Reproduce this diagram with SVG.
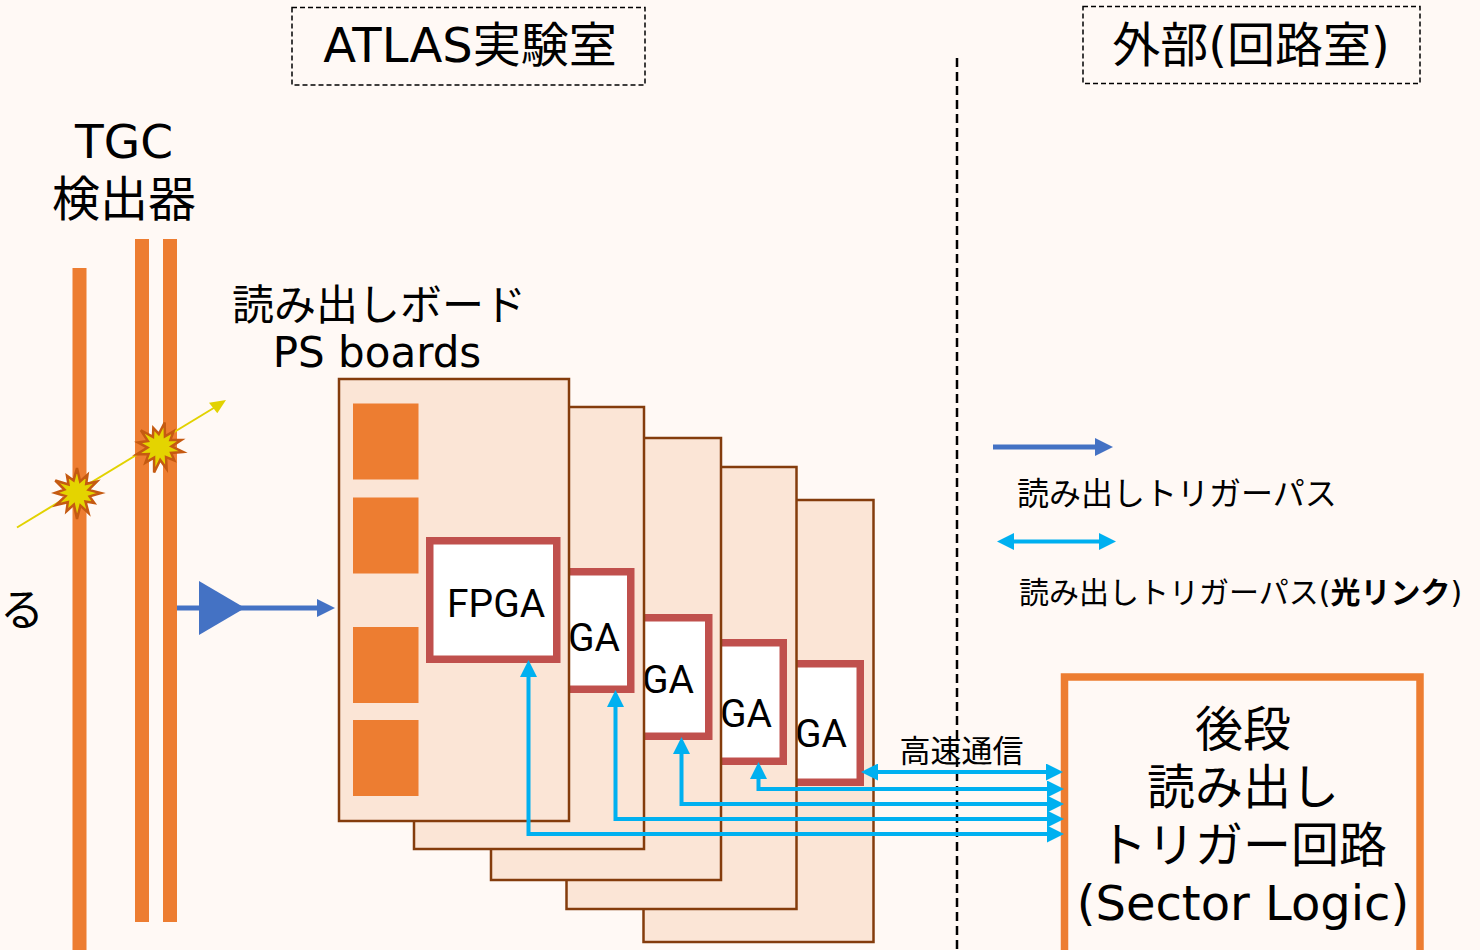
<svg xmlns="http://www.w3.org/2000/svg" width="1480" height="950" viewBox="0 0 1480 950">
  <defs>
    <style>
      .jp { font-family: "DejaVu Sans", "Noto Sans CJK JP", sans-serif; fill: #000; }
      .chiptext { font-family: Roboto, "Liberation Sans", sans-serif; font-size: 39px; fill: #000; }
      .board { fill: #FBE5D6; stroke: #843C0C; stroke-width: 2.5; }
      .chip { fill: #FFFFFF; stroke: #C0504D; stroke-width: 7.5; }
      .pad { fill: #ED7D31; }
      .bar { fill: #ED7D31; }
      .room { fill: none; stroke: #000; stroke-width: 1.5; stroke-dasharray: 5 3; }
      .link { fill: none; stroke: #00B0F0; stroke-width: 4; stroke-linejoin: miter; marker-start: url(#cyanHead); marker-end: url(#cyanHead); }
      .readout { fill: none; stroke: #4472C4; stroke-width: 5; marker-end: url(#blueHead); }
      .burst { fill: #E4D400; stroke: #C55A11; stroke-width: 2.5; stroke-linejoin: miter; }
    </style>
    <marker id="cyanHead" viewBox="0 0 17 17" refX="9" refY="8.5" markerWidth="17" markerHeight="17" markerUnits="userSpaceOnUse" orient="auto-start-reverse">
      <path d="M0,0 L17,8.5 L0,17 Z" fill="#00B0F0"/>
    </marker>
    <marker id="blueHead" viewBox="0 0 18 18" refX="9" refY="9" markerWidth="18" markerHeight="18" markerUnits="userSpaceOnUse" orient="auto">
      <path d="M0,0 L18,9 L0,18 Z" fill="#4472C4"/>
    </marker>
    <polygon id="burstShape" class="burst" points="24,0 12.6,3.4 17.3,10 8.5,8.5 11.5,19.9 3.4,12.6 0,26 -3.1,11.6 -10.5,18.2 -9.2,9.2 -20.8,12 -11.6,3.1 -22,0 -12.6,-3.4 -21.7,-12.5 -8.5,-8.5 -10,-17.3 -3.4,-12.6 0,-25 3.1,-11.6 10.5,-18.2 9.2,-9.2 19.9,-11.5 11.6,-3.1"/>
  </defs>

  <!-- background -->
  <rect x="0" y="0" width="1480" height="950" fill="#FFF9F5"/>

  <!-- room headers -->
  <g id="room-atlas">
    <rect class="room" x="292" y="7.5" width="353" height="77.5"/>
    <text class="jp" x="470" y="62" font-size="48" text-anchor="middle">ATLAS実験室</text>
  </g>
  <g id="room-outside">
    <rect class="room" x="1083" y="6.5" width="337" height="77"/>
    <text class="jp" x="1251" y="62" font-size="48" text-anchor="middle">外部(回路室)</text>
  </g>

  <!-- TGC detector -->
  <g id="tgc">
    <text class="jp" x="124" y="158" font-size="47" text-anchor="middle">TGC</text>
    <text class="jp" x="124" y="216" font-size="48" text-anchor="middle">検出器</text>
    <rect class="bar" x="72.5" y="268" width="14" height="682"/>
    <rect class="bar" x="135" y="239" width="14" height="683"/>
    <rect class="bar" x="163" y="239" width="14" height="683"/>
  </g>

  <!-- particle track with hits -->
  <g id="track">
    <line x1="17" y1="527.5" x2="217" y2="406" stroke="#E2D200" stroke-width="2"/>
    <polygon points="226,400 209,402.7 217.3,413.3" fill="#E2D200"/>
    <use href="#burstShape" transform="translate(77,493)"/>
    <use href="#burstShape" transform="translate(159.5,447) rotate(12)"/>
  </g>

  <text class="jp" x="0" y="626" font-size="44">る</text>

  <!-- PS boards label -->
  <g id="ps-label">
    <text class="jp" x="379" y="320" font-size="42" text-anchor="middle">読み出しボード</text>
    <text class="jp" x="377" y="367" font-size="42" text-anchor="middle">PS boards</text>
  </g>

  <!-- board stack, back to front -->
  <g id="board5">
    <rect class="board" x="643.5" y="500" width="230" height="442"/>
    <rect class="chip" x="733.25" y="663.75" width="127" height="118.5"/>
    <text class="chiptext" x="795" y="747">GA</text>
  </g>
  <g id="board4">
    <rect class="board" x="566.5" y="467" width="230" height="442"/>
    <rect class="chip" x="656.25" y="642.75" width="127" height="118.5"/>
    <text class="chiptext" x="720" y="727">GA</text>
  </g>
  <g id="board3">
    <rect class="board" x="491" y="438" width="230" height="442"/>
    <rect class="chip" x="581.75" y="617.75" width="127" height="118.5"/>
    <text class="chiptext" x="642" y="693">GA</text>
  </g>
  <g id="board2">
    <rect class="board" x="414" y="407" width="230" height="442"/>
    <rect class="chip" x="503.75" y="571.75" width="127" height="117.5"/>
    <text class="chiptext" x="568" y="651">GA</text>
  </g>
  <g id="board1">
    <rect class="board" x="339" y="379" width="230" height="442"/>
    <rect class="pad" x="353" y="403.5" width="65.5" height="76"/>
    <rect class="pad" x="353" y="497.5" width="65.5" height="76"/>
    <rect class="pad" x="353" y="627" width="65.5" height="76"/>
    <rect class="pad" x="353" y="720" width="65.5" height="76"/>
    <rect class="chip" x="429.75" y="540.75" width="127" height="118.5"/>
    <text class="chiptext" x="447" y="617">FPGA</text>
  </g>

  <!-- legend -->
  <g id="legend">
    <path class="readout" d="M993,447 H1104"/>
    <text class="jp" x="1017" y="505" font-size="32">読み出しトリガーパス</text>
    <path class="link" d="M1005,541.5 H1108"/>
    <text class="jp" x="1019" y="603" font-size="30">読み出しトリガーパス(<tspan font-weight="bold">光リンク</tspan>)</text>
  </g>

  <!-- sector logic -->
  <g id="sector-logic">
    <rect x="1064.5" y="677" width="355.5" height="290" fill="#FFF9F5" stroke="#ED7D31" stroke-width="7.5"/>
    <text class="jp" x="1243" y="746" font-size="48" text-anchor="middle">後段</text>
    <text class="jp" x="1243" y="804" font-size="48" text-anchor="middle">読み出し</text>
    <text class="jp" x="1243" y="862" font-size="48" text-anchor="middle">トリガー回路</text>
    <text class="jp" x="1243" y="920" font-size="48" text-anchor="middle">(Sector Logic)</text>
  </g>

  <text class="jp" x="961.5" y="762" font-size="31" text-anchor="middle">高速通信</text>

  <!-- boundary between rooms -->
  <line x1="957" y1="58" x2="957" y2="950" stroke="#000" stroke-width="2.5" stroke-dasharray="9 5"/>

  <!-- connectors -->
  <g id="connectors">
    <path class="readout" d="M177,608 H326"/>
    <polygon points="199,581 245,608 199,635" fill="#4472C4"/>
    <path class="link" d="M528.5,668 V834 H1056"/>
    <path class="link" d="M615.5,698 V819 H1056"/>
    <path class="link" d="M681.5,745 V804 H1056"/>
    <path class="link" d="M758.5,770 V789 H1056"/>
    <path class="link" d="M869,772 H1055"/>
  </g>
</svg>
